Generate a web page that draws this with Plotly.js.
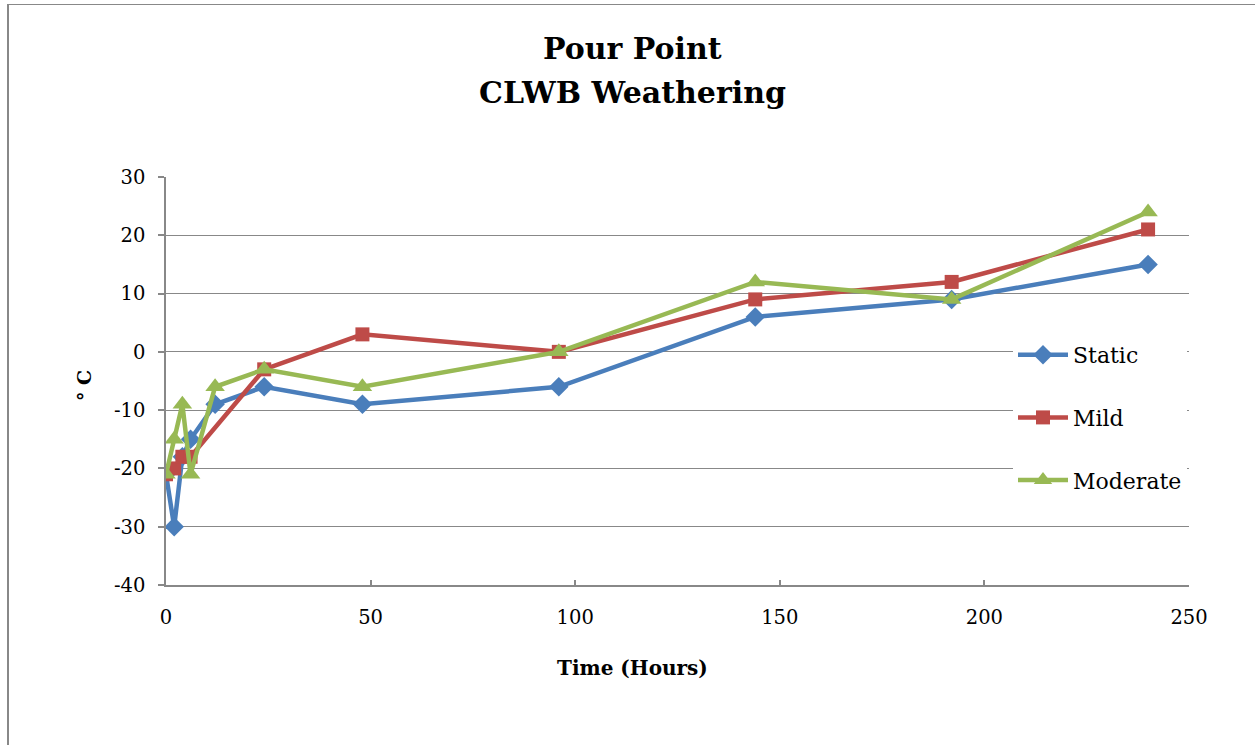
<!DOCTYPE html>
<html>
<head>
<meta charset="utf-8">
<script src="https://cdn.plot.ly/plotly-3.0.1.min.js"></script>
<style>
html,body{margin:0;padding:0;background:#fff;}
#frame{position:absolute;left:7px;top:4px;width:1248px;height:741px;border-left:2px solid #888;border-top:1px solid #888;}
#chart{position:absolute;left:0;top:0;width:1255px;height:745px;}
</style>
</head>
<body>
<div id="frame"></div>
<div id="chart"></div>
<script>
const hours = [0, 2, 4, 6, 12, 24, 48, 96, 144, 192, 240];
const staticVals = [-21, -30, -18, -15, -9, -6, -9, -6, 6, 9, 15];
const mildHours = [0, 2, 4, 6, 24, 48, 96, 144, 192, 240];
const mildVals = [-21, -20, -18, -18, -3, 3, 0, 9, 12, 21];
const moderateVals = [-21, -15, -9, -21, -6, -3, -6, 0, 12, 9, 24];
const yTicks = [-40, -30, -20, -10, 0, 10, 20, 30];
const yTickText = ['-40', '-30', '-20', '-10', '0', '10', '20', '30'];
const xTicks = [0, 50, 100, 150, 200, 250];
const titleLines = ['Pour Point', 'CLWB Weathering'];

const serif = "DejaVu Serif, Liberation Serif, serif";
const traces = [
  {x: hours, y: staticVals, name: 'Static', legendgroup: 'a', mode: 'lines+markers',
   line: {color: '#4A7EBB', width: 4.5}, marker: {symbol: 'diamond', size: 15, color: '#4A7EBB'}},
  {x: mildHours, y: mildVals, name: 'Mild', legendgroup: 'b', mode: 'lines+markers',
   line: {color: '#BE4B48', width: 4.5}, marker: {symbol: 'square', size: 14, color: '#BE4B48'}},
  {x: hours, y: moderateVals, name: 'Moderate', legendgroup: 'c', mode: 'lines+markers',
   line: {color: '#98B954', width: 4.5}, marker: {symbol: 'triangle-up', size: 17, color: '#98B954'}}
];

const px2x = p => (p - 166) / 1023;
const px2y = p => (585 - p) / 408;

const layout = {
  width: 1255, height: 745,
  paper_bgcolor: 'rgba(0,0,0,0)', plot_bgcolor: 'rgba(0,0,0,0)',
  margin: {l: 166, r: 66, t: 177, b: 160},
  font: {family: serif, color: '#000'},
  xaxis: {range: [0, 250], tickvals: xTicks, ticks: 'inside', ticklen: 5, tickcolor: '#888888', tickwidth: 1.5,
          showline: true, linecolor: '#888888', linewidth: 1.5, showgrid: false, zeroline: false,
          ticklabelstandoff: 14, tickfont: {size: 19.5, family: serif}},
  yaxis: {range: [-40, 30], tickvals: yTicks, ticktext: yTickText, ticks: 'outside', ticklen: 6, tickcolor: '#888888', tickwidth: 1.5,
          showline: true, linecolor: '#888888', linewidth: 1.5, showgrid: true, gridcolor: '#888888',
          gridwidth: 1, zeroline: false, ticklabelstandoff: 9, tickfont: {size: 19.5, family: serif}},
  showlegend: true,
  legend: {x: px2x(1013), y: px2y(334), xanchor: 'left', yanchor: 'top', bgcolor: 'rgba(255,255,255,1)',
           font: {size: 22, family: serif}, tracegroupgap: 31, itemwidth: 50},
  annotations: [
    {text: '<b>' + titleLines[0] + '</b>', xref: 'paper', yref: 'paper', x: px2x(632), y: px2y(48),
     xanchor: 'center', yanchor: 'middle', showarrow: false, font: {size: 30, family: serif}},
    {text: '<b>' + titleLines[1] + '</b>', xref: 'paper', yref: 'paper', x: px2x(632), y: px2y(92),
     xanchor: 'center', yanchor: 'middle', showarrow: false, font: {size: 30, family: serif}},
    {text: '<b>Time (Hours)</b>', xref: 'paper', yref: 'paper', x: px2x(632), y: px2y(668),
     xanchor: 'center', yanchor: 'middle', showarrow: false, font: {size: 20, family: serif}},
    {text: '<b>° C</b>', xref: 'paper', yref: 'paper', x: px2x(71), y: px2y(386), textangle: -90,
     showarrow: false, font: {size: 19, family: serif}}
  ]
};

Plotly.newPlot('chart', traces, layout, {displayModeBar: false});
</script>
</body>
</html>
